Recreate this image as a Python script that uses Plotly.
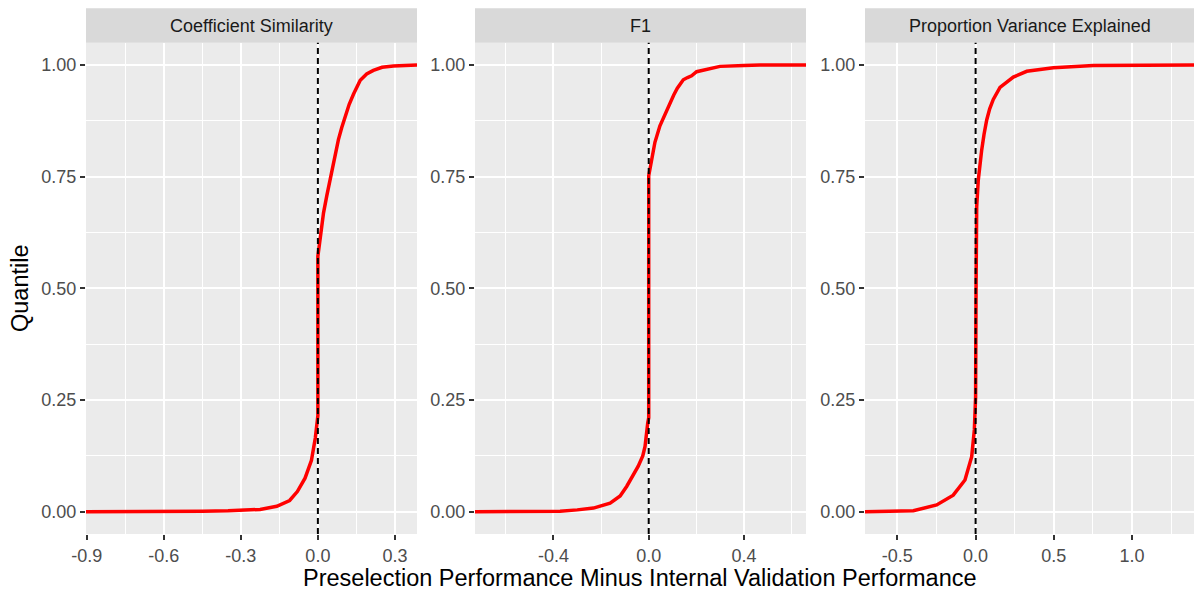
import plotly.graph_objects as go

# ---------------- data ----------------
panel_titles = ["Coefficient Similarity", "F1", "Proportion Variance Explained"]

cs_x = [-0.903, -0.60, -0.45, -0.35, -0.28, -0.225, -0.16, -0.11, -0.08, -0.05, -0.025,
        -0.01, -0.002, 0.0, 0.0, 0.005, 0.012, 0.022, 0.035, 0.048, 0.064, 0.080, 0.093,
        0.106, 0.122, 0.139, 0.152, 0.165, 0.19, 0.216, 0.25, 0.294, 0.386]
cs_q = [0.0, 0.0, 0.001, 0.002, 0.003, 0.005, 0.012, 0.025, 0.045, 0.075, 0.115,
        0.165, 0.205, 0.215, 0.572, 0.595, 0.630, 0.669, 0.708, 0.744, 0.790, 0.833, 0.860,
        0.884, 0.912, 0.935, 0.952, 0.966, 0.980, 0.988, 0.995, 0.998, 1.0]

f1_x = [-0.729, -0.50, -0.372, -0.30, -0.232, -0.162, -0.12, -0.092, -0.06, -0.044,
        -0.025, -0.0155, -0.004, 0.0, 0.0, 0.005, 0.015, 0.026, 0.047, 0.07, 0.089, 0.105,
        0.12, 0.145, 0.163, 0.180, 0.201, 0.25, 0.299, 0.40, 0.467, 0.660]
f1_q = [0.0, 0.0, 0.001, 0.004, 0.008, 0.019, 0.035, 0.057, 0.085, 0.102,
        0.125, 0.146, 0.199, 0.21, 0.752, 0.767, 0.800, 0.827, 0.864, 0.893, 0.916, 0.933,
        0.948, 0.967, 0.972, 0.976, 0.985, 0.992, 0.997, 0.999, 1.0, 1.0]

pve_x = [-0.707, -0.611, -0.398, -0.249, -0.143, -0.068, -0.025, -0.008, 0.0, 0.003,
         0.003, 0.007, 0.017, 0.027, 0.039, 0.054, 0.071, 0.090, 0.113, 0.156, 0.20, 0.241,
         0.327, 0.497, 0.753, 1.094, 1.396]
pve_q = [0.0, 0.001, 0.002, 0.015, 0.037, 0.071, 0.123, 0.183, 0.257, 0.504,
         0.623, 0.683, 0.742, 0.780, 0.810, 0.845, 0.877, 0.902, 0.923, 0.950, 0.963, 0.973,
         0.986, 0.994, 0.999, 1.0, 1.0]

x_ranges = [[-0.903, 0.386], [-0.729, 0.660], [-0.707, 1.396]]
x_tickvals = [[-0.9, -0.6, -0.3, 0.0, 0.3], [-0.4, 0.0, 0.4], [-0.5, 0.0, 0.5, 1.0]]
x_ticktext = [["-0.9", "-0.6", "-0.3", "0.0", "0.3"], ["-0.4", "0.0", "0.4"],
              ["-0.5", "0.0", "0.5", "1.0"]]
x_minor = [0.15, 0.2, 0.25]
y_tickvals = [0.0, 0.25, 0.5, 0.75, 1.0]
y_ticktext = ["0.00", "0.25", "0.50", "0.75", "1.00"]
ref_line = 0.0

x_title = "Preselection Performance Minus Internal Validation Performance"
y_title = "Quantile"

# ---------------- layout ----------------
W, H = 1194, 592
FONT = "Liberation Sans, Arial, sans-serif"
x_domains = [[86 / W, 417 / W], [475 / W, 806 / W], [865 / W, 1.0]]
y_domain = [(H - 534) / H, (H - 42.7) / H]
strip_top = (H - 8.3) / H

series = [(cs_x, cs_q), (f1_x, f1_q), (pve_x, pve_q)]

fig = go.Figure()
layout = dict(
    width=W, height=H,
    margin=dict(l=0, r=0, t=0, b=0, autoexpand=False),
    paper_bgcolor="white", plot_bgcolor="white",
    showlegend=False,
    font=dict(family=FONT, size=18, color="#4D4D4D"),
)
shapes = []
annotations = []

for i, (xs, qs) in enumerate(series):
    sfx = "" if i == 0 else str(i + 1)
    xa, ya = "x" + sfx, "y" + sfx
    fig.add_trace(go.Scatter(x=xs, y=qs, mode="lines", xaxis=xa, yaxis=ya,
                             line=dict(color="#FF0000", width=3.5), hoverinfo="skip"))
    layout["xaxis" + sfx] = dict(
        domain=x_domains[i], anchor=ya, range=x_ranges[i], showline=False, zeroline=False,
        automargin=False,
        tickmode="array", tickvals=x_tickvals[i], ticktext=x_ticktext[i],
        ticks="outside", ticklen=5, tickwidth=1.5, tickcolor="#333333",
        showgrid=True, gridcolor="white", gridwidth=1.8,
        minor=dict(dtick=x_minor[i], tick0=0, showgrid=True, gridcolor="white",
                   gridwidth=0.9, ticks=""),
        tickfont=dict(size=18, color="#4D4D4D", family=FONT),
        fixedrange=True,
    )
    layout["yaxis" + sfx] = dict(
        domain=y_domain, anchor=xa, range=[-0.05, 1.05], showline=False, zeroline=False,
        automargin=False,
        tickmode="array", tickvals=y_tickvals, ticktext=y_ticktext,
        ticks="outside", ticklen=5, tickwidth=1.5, tickcolor="#333333",
        showgrid=True, gridcolor="white", gridwidth=1.8,
        minor=dict(dtick=0.125, tick0=0, showgrid=True, gridcolor="white",
                   gridwidth=0.9, ticks=""),
        tickfont=dict(size=18, color="#4D4D4D", family=FONT),
        fixedrange=True,
    )
    # panel background
    shapes.append(dict(type="rect", xref=xa + " domain", yref=ya + " domain",
                       x0=0, x1=1, y0=0, y1=1, fillcolor="#EBEBEB",
                       line=dict(width=0), layer="below"))
    # strip
    shapes.append(dict(type="rect", xref=xa + " domain", yref="paper",
                       x0=0, x1=1, y0=y_domain[1], y1=strip_top, fillcolor="#D9D9D9",
                       line=dict(width=0), layer="below"))
    annotations.append(dict(text=panel_titles[i], xref=xa + " domain", yref="paper",
                            x=0.5, y=(y_domain[1] + strip_top) / 2, showarrow=False,
                            xanchor="center", yanchor="middle",
                            font=dict(size=18, color="#1A1A1A", family=FONT)))
    # dashed reference line at 0
    shapes.append(dict(type="line", xref=xa, yref=ya + " domain",
                       x0=ref_line, x1=ref_line, y0=0, y1=1,
                       line=dict(color="black", width=2, dash="6px,4px"), layer="above"))

annotations.append(dict(text=x_title, xref="paper", yref="paper",
                        x=(86 + 1194) / 2 / W, y=(H - 578) / H, showarrow=False,
                        xanchor="center", yanchor="middle",
                        font=dict(size=23.5, color="black", family=FONT)))
annotations.append(dict(text=y_title, xref="paper", yref="paper",
                        x=20 / W, y=(H - 288) / H, showarrow=False, textangle=-90,
                        xanchor="center", yanchor="middle",
                        font=dict(size=23.5, color="black", family=FONT)))

layout["shapes"] = shapes
layout["annotations"] = annotations
fig.update_layout(**layout)
fig.write_html("out.html")
